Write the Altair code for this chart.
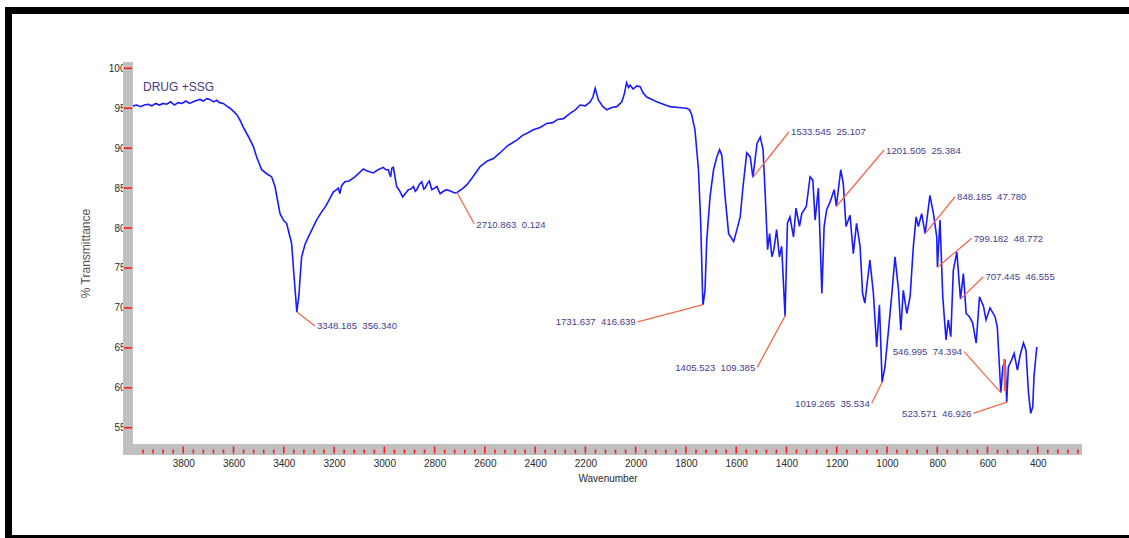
import altair as alt
import pandas as pd

# FT-IR spectrum: wavenumber (cm-1) and % transmittance
wavenumber = [
    4000, 3985, 3970, 3955, 3940, 3925, 3910, 3895, 3880, 3866, 3850, 3835, 3820, 3805,
    3790, 3775, 3760, 3745, 3733, 3720, 3706, 3694, 3680, 3667, 3655, 3641, 3628, 3614,
    3600, 3587, 3574, 3561, 3540, 3521, 3508, 3488, 3468, 3448, 3435, 3415, 3400, 3389,
    3369, 3359, 3348.185, 3340, 3335, 3329, 3315, 3302, 3285, 3270, 3250, 3230, 3215,
    3203, 3190, 3183, 3177, 3170, 3157, 3140, 3117, 3100, 3083, 3065, 3044, 3025, 3004,
    2994, 2984, 2975, 2970, 2964, 2957, 2951, 2940, 2927, 2915, 2904, 2893, 2884, 2877,
    2871, 2860, 2851, 2843, 2838, 2828, 2821, 2811, 2800, 2791, 2778, 2765, 2752, 2735,
    2720, 2710.863, 2690, 2672, 2650, 2619, 2590, 2566, 2540, 2510, 2473, 2450, 2430,
    2407, 2380, 2354, 2330, 2310, 2287, 2260, 2240, 2221, 2200, 2181, 2170, 2161, 2155,
    2148, 2130, 2115, 2095, 2075, 2055, 2045, 2036, 2028, 2022, 2010, 1995, 1982, 1970,
    1956, 1935, 1916, 1890, 1863, 1830, 1797, 1785, 1777, 1764, 1750, 1741, 1733,
    1731.637, 1724, 1717, 1704, 1690, 1677, 1666, 1657, 1644, 1630, 1610, 1597, 1584,
    1574, 1558, 1544, 1533.545, 1517, 1504, 1493, 1484, 1475, 1467, 1458, 1450, 1439,
    1428, 1419, 1405.523, 1396, 1386, 1372, 1362, 1348, 1339, 1321, 1306, 1295, 1286,
    1273, 1259, 1250, 1240, 1226, 1210, 1201.505, 1184, 1174, 1163, 1147, 1134, 1121,
    1107, 1097, 1088, 1068, 1054, 1041, 1030, 1019.265, 1008, 994, 980, 968, 954, 945,
    935, 921, 908, 895, 884, 875, 862, 848.185, 829, 815, 802, 799.182, 789, 778, 765,
    756, 746, 736, 722, 707.445, 696, 685, 672, 659, 645, 632, 616, 606, 590, 570, 561,
    546.995, 539, 530, 523.571, 517, 504, 494, 481, 470, 457, 447, 437, 428, 420, 415, 404,
]
transmittance = [
    95.3, 95.4, 95.2, 95.4, 95.5, 95.3, 95.6, 95.4, 95.6, 95.5, 95.8, 95.4, 95.7, 95.6,
    95.9, 95.6, 95.8, 96.0, 96.1, 95.9, 96.2, 96.1, 95.8, 96.0, 95.7, 95.6, 95.3, 95.0,
    94.6, 94.2, 93.5, 92.6, 91.4, 90.2, 88.9, 87.3, 86.8, 86.4, 85.2, 81.8, 80.9, 80.6,
    78.1, 73.9, 69.5, 71.5, 73.9, 76.4, 78.0, 78.9, 80.0, 81.0, 82.0, 82.9, 83.8,
    84.5, 84.8, 85.0, 84.3, 85.3, 85.8, 85.9, 86.4, 86.9, 87.4, 87.1, 86.9, 87.3, 87.6,
    87.3, 87.3, 86.4, 87.5, 87.6, 86.3, 85.2, 84.7, 83.9, 84.4, 84.8, 84.9, 85.2, 84.6,
    84.8, 85.5, 85.8, 84.9, 85.0, 85.6, 85.9, 84.8, 85.0, 85.2, 84.3, 84.6, 84.8, 84.6,
    84.4, 84.45, 84.9, 85.4, 86.3, 87.7, 88.4, 88.7, 89.4, 90.3, 91.0, 91.6, 91.9,
    92.3, 92.6, 93.1, 93.2, 93.6, 93.7, 94.4, 94.8, 95.4, 95.3, 95.8, 96.4, 97.5, 96.8,
    96.0, 95.2, 94.8, 95.1, 95.2, 95.8, 96.8, 98.2, 97.6, 97.9, 97.4, 97.8, 97.7, 96.9,
    96.4, 96.1, 95.8, 95.5, 95.2, 95.1, 95.0, 94.8, 94.2, 92.3, 87.3, 80.5, 70.8,
    70.4, 72.2, 78.5, 83.9, 87.3, 88.9, 89.8, 89.1, 83.9, 79.3, 78.3, 79.8, 81.4,
    84.8, 89.4, 88.9, 86.35, 90.6, 91.4, 89.8, 83.9, 77.3, 79.3, 76.4, 77.3, 79.8,
    76.4, 77.7, 69.0, 80.6, 81.4, 78.9, 82.5, 80.2, 81.8, 82.7, 86.4, 86.0, 81.0,
    85.0, 71.8, 80.2, 82.3, 83.3, 84.8, 82.7, 87.3, 85.6, 80.2, 81.6, 76.8, 80.6,
    77.7, 71.8, 70.6, 76.0, 71.8, 65.1, 70.4, 60.7, 62.6, 67.2, 72.0, 76.4, 72.2, 67.2,
    72.2, 69.3, 71.4, 77.7, 81.4, 80.2, 81.8, 79.3, 84.1, 81.8, 78.9, 75.1, 81.0, 71.4, 66.0,
    68.5, 66.4, 74.7, 77.0, 71.1, 74.3, 69.3, 68.9, 68.1, 65.6, 71.4, 70.2, 68.5, 70.0, 68.9, 67.6,
    59.4, 62.6, 63.5, 58.2, 62.6, 63.5, 64.3, 62.2, 64.1, 65.6, 64.7, 59.4, 56.8, 57.6, 61.4, 65.1,
]

# Picked peaks: position, second value printed by the software, and label anchor
peak_wn = [3348.185, 2710.863, 1731.637, 1405.523, 1019.265, 1533.545,
           1201.505, 848.185, 799.182, 707.445, 546.995, 523.571]
peak_t = [69.5, 84.45, 70.4, 69.0, 60.7, 86.35, 82.7, 79.3, 75.1, 71.1, 59.4, 58.2]
peak_value = ["356.340", "0.124", "416.639", "109.385", "35.534", "25.107",
              "25.384", "47.780", "48.772", "46.555", "74.394", "46.926"]
label_wn = [3276, 2642, 1992, 1516, 1060.5, 1389.6, 1011.5, 729, 662.6, 616.4, 693, 656]
label_t = [67.74, 80.5, 68.24, 62.56, 58.06, 92.06, 89.77, 83.92, 78.72, 73.91, 64.52, 56.8]
label_side = ["left", "left", "right", "right", "right", "left",
              "left", "left", "left", "left", "right", "right"]

# Highlighted peak-area sliver near 530 cm-1
highlight_wn = [533, 531.5, 530]
highlight_t = [63.6, 61.5, 59.6]

# Axis ticks
x_label_values = list(range(3800, 399, -200))
x_tick_values = list(range(3960, 200, -40))
y_tick_values = list(range(55, 101, 5))

W, H = 949, 382
X_DOMAIN = [4000, 224]
Y_DOMAIN = [52.96, 100.79]

FONT = "Liberation Sans"
BLUE = "#1a1aff"
ORANGE = "#f26a4b"
LABEL_COLOR = "#473d8c"
RED = "#ff1a1a"
X_TITLE = "Wavenumber"
Y_TITLE = "% Transmittance"

spectrum = pd.DataFrame({"wn": wavenumber, "t": transmittance})
peaks = pd.DataFrame({
    "wn": peak_wn, "t": peak_t, "wn2": label_wn, "t2": label_t, "side": label_side,
    "text": [f"{w:.3f}\u00a0\u00a0{v}" for w, v in zip(peak_wn, peak_value)],
})
highlight = pd.DataFrame({"wn": highlight_wn, "t": highlight_t})
x_ticks = pd.DataFrame({"wn": x_tick_values, "major": [v % 200 == 0 for v in x_tick_values]})
y_ticks = pd.DataFrame({"t": y_tick_values})
one = pd.DataFrame({"k": [0]})

xs = alt.Scale(domain=X_DOMAIN, nice=False, zero=False)
ys = alt.Scale(domain=Y_DOMAIN, nice=False, zero=False)


def X(field="wn", **kw):
    return alt.X(f"{field}:Q", scale=xs, title=X_TITLE, **kw)


def Y(field="t", **kw):
    return alt.Y(f"{field}:Q", scale=ys, title=Y_TITLE, **kw)


def rect(x, x2, y, y2, color):
    return alt.Chart(one).mark_rect(color=color).encode(
        x=alt.value(x), x2=alt.value(x2), y=alt.value(y), y2=alt.value(y2)
    )


# Page frame
frame_top = rect(-128, 1000, -55, -48, "#000000")
frame_left = rect(-128, -121, -55, 480, "#000000")
frame_bottom = rect(-128, 1000, 473, 480, "#000000")

# Grey axis bands
y_band = rect(-10, 0, 0, 393, "#c0c0c0")
x_band = rect(-10, W, H, 393, "#c0c0c0")

x_major = alt.Chart(x_ticks).transform_filter("datum.major").mark_rule(
    color=RED, strokeWidth=1.6
).encode(x=X(), y=alt.value(384.5), y2=alt.value(391.5))
x_minor = alt.Chart(x_ticks).transform_filter("!datum.major").mark_rule(
    color=RED, strokeWidth=1.6
).encode(x=X(), y=alt.value(387.5), y2=alt.value(391.5))
y_rules = alt.Chart(y_ticks).mark_rule(color=RED, strokeWidth=1.6).encode(
    y=Y(), x=alt.value(-9), x2=alt.value(-1)
)

line = alt.Chart(spectrum).mark_line(color=BLUE, strokeWidth=1.6).encode(
    x=X(axis=alt.Axis(values=x_label_values, format="d")),
    y=Y(axis=alt.Axis(values=y_tick_values, format="d")),
    order=alt.Order("wn:Q", sort="descending"),
)

leaders = alt.Chart(peaks).mark_rule(color=ORANGE, strokeWidth=1.3).encode(
    x=X(), y=Y(), x2="wn2:Q", y2="t2:Q",
)

hl = alt.Chart(highlight).mark_line(color=ORANGE, strokeWidth=2.5).encode(x=X(), y=Y())

text_left = alt.Chart(peaks).transform_filter("datum.side == 'left'").mark_text(
    align="left", baseline="middle", dx=2, dy=0.5, font=FONT, fontSize=9.6, color=LABEL_COLOR
).encode(x=X("wn2"), y=Y("t2"), text="text:N")
text_right = alt.Chart(peaks).transform_filter("datum.side == 'right'").mark_text(
    align="right", baseline="middle", dx=-2, dy=0.5, font=FONT, fontSize=9.6, color=LABEL_COLOR
).encode(x=X("wn2"), y=Y("t2"), text="text:N")

sample_title = alt.Chart(one).mark_text(
    align="left", baseline="middle", font=FONT, fontSize=12, color="#463a86"
).encode(x=alt.value(10), y=alt.value(25), text=alt.value("DRUG +SSG"))

chart = alt.layer(
    line, frame_top, frame_left, frame_bottom, y_band, x_band,
    x_major, x_minor, y_rules, leaders, hl, text_left, text_right, sample_title,
).properties(
    width=W, height=H,
    autosize=alt.AutoSizeParams(type="none"),
    padding={"left": 133, "top": 62, "right": 47, "bottom": 94},
    background="white",
).configure_view(
    stroke=None
).configure_axis(
    domain=False, ticks=False, grid=False,
    labelFont=FONT, labelFontSize=10, labelColor="#2a2a2a",
    titleFont=FONT, titleFontWeight="normal",
    titleBaseline="middle", titleAlign="center",
).configure_axisX(
    labelPadding=14, titleFontSize=10,
    titleColor="#2a2a2a", titleX=W / 2, titleY=34,
).configure_axisY(
    labelPadding=8, titleFontSize=12,
    titleColor="#555555", titleX=-48, titleY=H / 2, titleAngle=270,
)

chart.save("out.html", embed_options={"renderer": "svg", "actions": False})
